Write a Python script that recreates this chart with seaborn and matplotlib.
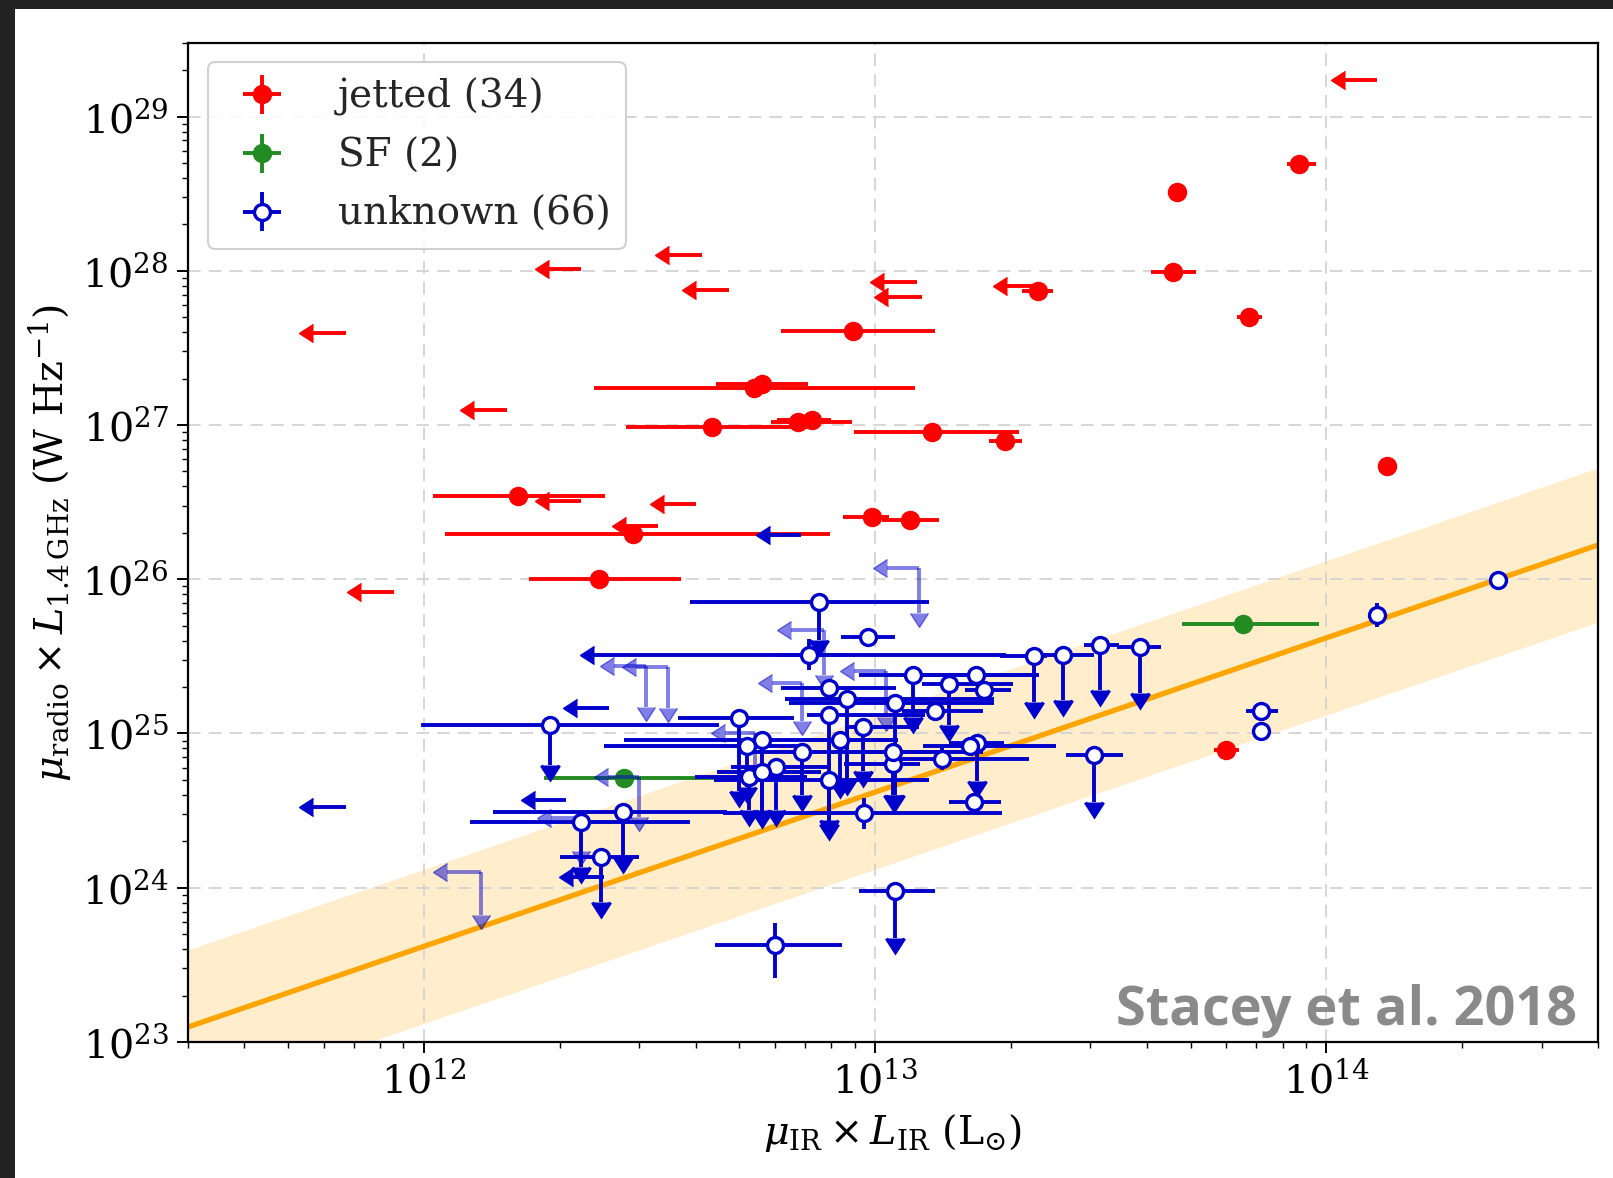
import numpy as np
import matplotlib
matplotlib.use("Agg")
import matplotlib.pyplot as plt
from matplotlib.patches import Rectangle
import seaborn as sns

# every value below is log10
# x = mu_IR * L_IR (Lsun), y = mu_radio * L_1.4GHz (W/Hz)

# jetted sources with a measured L_IR
jet_x   = [13.360, 12.950, 13.940, 13.669, 13.661, 13.829, 14.134, 12.209, 12.464, 12.387,
           12.732, 12.750, 12.638, 12.830, 12.861, 13.126, 13.288, 12.993, 13.077, 13.778]
jet_y   = [27.868, 27.609, 28.690, 28.511, 27.994, 27.702, 26.733, 26.538, 26.296, 26.002,
           27.241, 27.267, 26.986, 27.018, 27.031, 26.953, 26.895, 26.404, 26.382, 24.890]
jet_xlo = [13.326, 12.791, 13.912, 13.669, 13.612, 13.802, 14.134, 12.020, 12.046, 12.232,
           12.377, 12.647, 12.448, 12.769, 12.783, 12.954, 13.253, 12.928, 13.016, 13.752]
jet_xhi = [13.395, 13.133, 13.976, 13.669, 13.711, 13.857, 14.134, 12.401, 12.900, 12.570,
           13.089, 12.852, 12.855, 12.948, 12.902, 13.319, 13.325, 13.031, 13.141, 13.806]

# jetted sources with only an upper limit on L_IR (length of the bar, dex)
jlim_x   = [11.827, 12.348, 12.617, 12.675, 13.092, 13.104, 13.364, 14.112, 12.185, 12.348,
            12.603, 12.518, 11.934]
jlim_y   = [27.598, 28.009, 28.100, 27.875, 27.927, 27.832, 27.901, 29.236, 27.099, 26.506,
            26.491, 26.343, 25.915]
jlim_len = [0.074, 0.072, 0.074, 0.072, 0.073, 0.075, 0.071, 0.071, 0.074, 0.072,
            0.070, 0.070, 0.073]

# star forming
sf_x   = [13.816, 12.444]
sf_y   = [25.712, 24.711]
sf_xlo = [13.681, 12.266]
sf_xhi = [13.984, 12.643]

# unknown, radio detected
unk_x   = [14.381, 14.112, 13.855, 13.855, 12.983, 12.854, 13.223, 13.242, 13.133, 12.898,
           13.149, 13.210, 13.220, 12.975, 12.777, 13.039]
unk_y   = [25.993, 25.770, 25.149, 25.013, 25.623, 25.511, 25.381, 25.279, 25.147, 25.295,
           24.834, 24.920, 24.559, 24.483, 23.629, 24.877]
unk_xlo = [14.381, 14.112, 13.822, 13.855, 12.924, 12.780, 13.100, 13.200, 13.060, 12.791,
           13.046, 13.107, 13.163, 12.662, 12.646, 12.930]
unk_xhi = [14.381, 14.112, 13.892, 13.855, 13.045, 12.930, 13.364, 13.300, 13.240, 13.046,
           13.342, 13.400, 13.278, 13.282, 12.926, 13.240]
unk_ylo = [0.0, 0.078, 0.0, 0.06, 0.0, 0.10, 0.0, 0.0, 0.0, 0.0,
           0.07, 0.0, 0.0, 0.10, 0.216, 0.0]
unk_yhi = [0.0, 0.078, 0.0, 0.06, 0.0, 0.10, 0.0, 0.0, 0.0, 0.0,
           0.07, 0.0, 0.0, 0.10, 0.141, 0.0]

# unknown, radio upper limit
ulim_x   = [13.484, 13.587, 13.499, 13.417, 13.353, 12.876, 13.083, 13.163, 13.045, 12.937,
            12.898, 12.974, 12.922, 12.838, 12.699, 12.749, 12.717, 12.780, 12.721, 12.750,
            12.898, 13.039, 13.225, 12.440, 12.348, 12.393, 13.044, 12.280]
ulim_y   = [24.862, 25.558, 25.576, 25.506, 25.500, 25.853, 25.381, 25.322, 25.197, 25.223,
            25.121, 25.045, 24.959, 24.879, 25.100, 24.959, 24.916, 24.782, 24.717, 24.753,
            24.700, 24.803, 24.940, 24.494, 24.429, 24.198, 23.979, 25.056]
ulim_xlo = [13.424, 13.537, 13.462, 13.350, 13.276, 12.589, 12.965, 13.104, 12.810, 12.800,
            12.850, 12.943, 12.850, 12.699, 12.562, 12.444, 12.400, 12.680, 12.600, 12.650,
            12.643, 12.930, 13.163, 12.153, 12.102, 12.302, 12.964, 11.994]
ulim_xhi = [13.550, 13.634, 13.540, 13.485, 13.380, 13.120, 13.364, 13.305, 13.264, 13.264,
            13.110, 13.098, 13.050, 13.127, 12.821, 13.046, 12.850, 12.900, 12.850, 12.880,
            13.120, 13.100, 13.285, 12.671, 12.590, 12.476, 13.133, 12.654]
ulim_len = [0.304, 0.298, 0.294, 0.289, 0.295, 0.246, 0.272, 0.265, 0.595, 0.515,
            0.685, 0.285, 0.272, 0.278, 0.475, 0.455, 0.261, 0.278, 0.215, 0.265,
            0.285, 0.205, 0.245, 0.293, 0.293, 0.290, 0.305, 0.261]

# unknown, upper limit on L_IR only
uxl_x   = [11.828, 12.411, 12.315, 12.399, 12.836, 13.290]
uxl_y   = [24.522, 25.165, 24.570, 24.072, 26.289, 25.511]
uxl_len = [0.073, 0.072, 0.069, 0.069, 0.070, 0.913]

# unknown, upper limits on both (drawn faded)
both_x    = [12.126, 13.098, 12.887, 13.024, 12.838, 12.492, 12.540, 12.477, 12.349, 12.734]
both_y    = [24.104, 26.073, 25.673, 25.402, 25.327, 25.439, 25.430, 24.721, 24.453, 25.003]
both_xlen = [0.074, 0.072, 0.074, 0.070, 0.067, 0.070, 0.070, 0.070, 0.067, 0.067]
both_ylen = [0.282, 0.294, 0.295, 0.295, 0.245, 0.265, 0.265, 0.261, 0.215, 0.215]

# radio / far-IR correlation and its scatter
rel_x   = [11.45, 14.65]
rel_y   = [23.07, 26.27]
rel_lo  = [22.57, 25.77]
rel_hi  = [23.57, 26.77]

legend_labels = ['jetted (34)', 'SF (2)', 'unknown (66)']


def p10(a):
    return 10 ** np.asarray(a, dtype=float)


def span(c, lo, hi):
    c, lo, hi = p10(c), p10(lo), p10(hi)
    return np.vstack([c - lo, hi - c])


def below(c, d):
    c = p10(c)
    return c * (1 - 10 ** -np.asarray(d, dtype=float))


sns.set_theme(style="ticks")
plt.rcParams['font.family'] = ['DejaVu Serif']
plt.rcParams['mathtext.fontset'] = 'dejavuserif'
plt.rcParams['lines.markersize'] = 13.5   # limit arrowheads

RED, GREEN, BLUE = 'red', 'forestgreen', 'mediumblue'
ELW = 2.8

fig = plt.figure(figsize=(16.13, 11.78), dpi=100)
fig.patch.set_facecolor('#222222')
fig.add_artist(Rectangle((15 / 1613, 0), 1, 1 - 9 / 1178, transform=fig.transFigure,
                         facecolor='white', edgecolor='none', zorder=-10))
ax = fig.add_axes([0.1166, 0.1155, 0.8741, 0.8480])
ax.set_xscale('log')
ax.set_yscale('log')

# correlation
ax.fill_between(p10(rel_x), p10(rel_lo), p10(rel_hi), color='orange', alpha=0.2,
                lw=0, zorder=0.2)
sns.lineplot(x=p10(rel_x), y=p10(rel_y), color='orange', linewidth=3.8, ax=ax, zorder=1)

# jetted
ax.errorbar(p10(jet_x), p10(jet_y), xerr=span(jet_x, jet_xlo, jet_xhi), fmt='o',
            color=RED, ms=13, elinewidth=ELW, zorder=3)
ax.errorbar(p10(jlim_x), p10(jlim_y), xerr=below(jlim_x, jlim_len), xuplims=True,
            fmt='none', color=RED, ecolor=RED, elinewidth=ELW, zorder=3)

# star forming
ax.errorbar(p10(sf_x), p10(sf_y), xerr=span(sf_x, sf_xlo, sf_xhi), fmt='o',
            color=GREEN, ms=13, elinewidth=ELW, zorder=3)

# unknown
blue_kw = dict(color=BLUE, mfc='white', mec=BLUE, mew=2.4, ms=11.5, elinewidth=ELW)
ax.errorbar(p10(both_x), p10(both_y), xerr=below(both_x, both_xlen),
            yerr=below(both_y, both_ylen), xuplims=True, uplims=True, fmt='none',
            color=BLUE, ecolor=BLUE, elinewidth=ELW, alpha=0.5, zorder=3.5)
ax.errorbar(p10(uxl_x), p10(uxl_y), xerr=below(uxl_x, uxl_len), xuplims=True,
            fmt='none', color=BLUE, ecolor=BLUE, elinewidth=ELW, zorder=4)
ax.errorbar(p10(ulim_x), p10(ulim_y), xerr=span(ulim_x, ulim_xlo, ulim_xhi),
            yerr=below(ulim_y, ulim_len), uplims=True, fmt='o', zorder=4, **blue_kw)
uy = p10(unk_y)
ax.errorbar(p10(unk_x), uy, xerr=span(unk_x, unk_xlo, unk_xhi),
            yerr=np.vstack([uy - p10(np.subtract(unk_y, unk_ylo)),
                            p10(np.add(unk_y, unk_yhi)) - uy]),
            fmt='o', zorder=4, **blue_kw)

# legend proxies placed outside the axes range
hj = ax.errorbar([1e10], [1e20], xerr=[1e9], yerr=[1e19], fmt='o', color=RED, ms=13,
                 elinewidth=ELW)
hs = ax.errorbar([1e10], [1e20], xerr=[1e9], yerr=[1e19], fmt='o', color=GREEN, ms=13,
                 elinewidth=ELW)
hu = ax.errorbar([1e10], [1e20], xerr=[1e9], yerr=[1e19], fmt='o', **blue_kw)
leg = ax.legend([hj, hs, hu], legend_labels, loc='upper left', fontsize=28,
                frameon=True, fancybox=True, edgecolor='#cccccc', framealpha=0.9,
                borderpad=0.4, handletextpad=0.95, handlelength=2.0, labelspacing=0.55,
                borderaxespad=0.5)
leg.get_frame().set_linewidth(1.5)

ax.set_xlim(3e11, 4e14)
ax.set_ylim(1e23, 3e29)

ax.grid(True, which='major', color='#d3d3d3', ls=(0, (7, 4.5)), lw=1.3)
ax.grid(False, which='minor')
ax.set_axisbelow(True)

for s in ax.spines.values():
    s.set_color('black')
    s.set_linewidth(1.6)
ax.tick_params(which='major', direction='out', length=8, width=1.4, color='black',
               labelsize=28.5, pad=6, labelcolor='black')
ax.tick_params(which='minor', direction='out', length=4, width=1.0, color='black')
ax.tick_params(top=False, right=False, which='both')

ax.set_xlabel(r'$\mu_{\rm IR} \times L_{\rm IR}$ (L$_{\odot}$)', fontsize=28.5,
              color='black', labelpad=8)
ax.set_ylabel(r'$\mu_{\rm radio} \times L_{\rm 1.4\,GHz}$ (W Hz$^{-1}$)', fontsize=28.5,
              color='black', labelpad=6)

ax.text(0.985, 0.017, 'Stacey et al. 2018', transform=ax.transAxes, ha='right',
        va='baseline', fontsize=39, fontweight='bold', family=['Open Sans', 'DejaVu Sans'],
        color='#8a8a8a', zorder=6)

fig.savefig('out.png', dpi=100)
